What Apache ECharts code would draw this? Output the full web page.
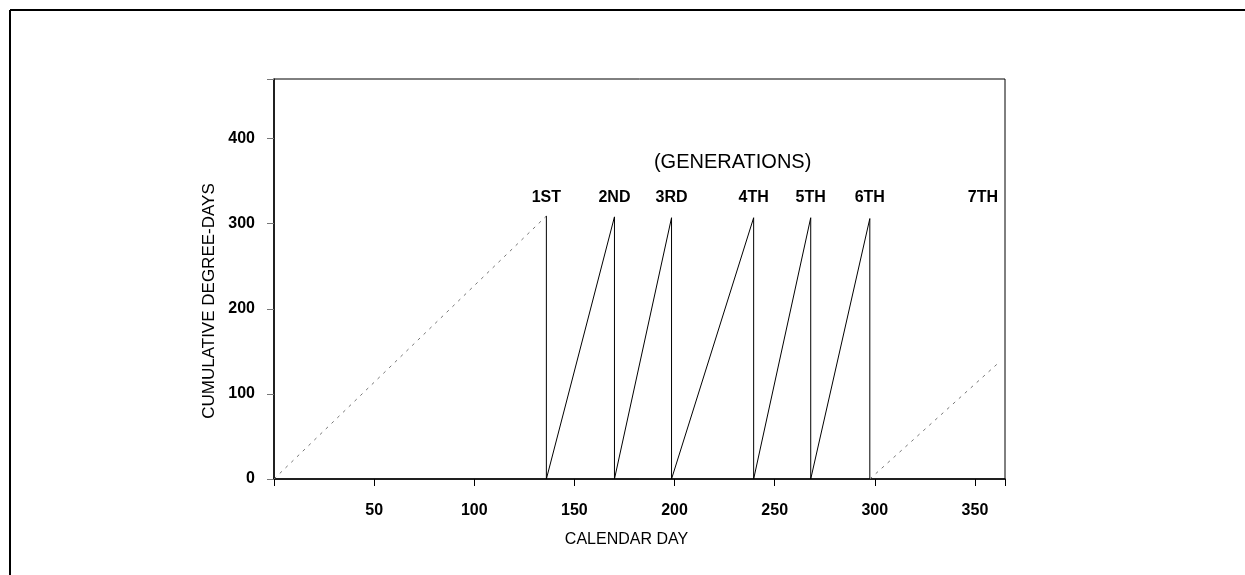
<!DOCTYPE html>
<html>
<head>
<meta charset="utf-8">
<script src="https://cdn.jsdelivr.net/npm/echarts@6/dist/echarts.min.js"></script>
<style>
html,body{margin:0;padding:0;background:#fff;}
#chart{width:1245px;height:575px;}
</style>
</head>
<body>
<div id="chart"></div>
<script>
// Generation completion days and peak cumulative degree-days
const genNames = ['1ST', '2ND', '3RD', '4TH', '5TH', '6TH', '7TH'];
const genDays = [136, 170, 198.5, 239.5, 268, 297.5];
const genPeaks = [309, 308, 307, 307, 307, 306];
const labelDays = [136, 170, 198.5, 239.5, 268, 297.5, 354];
const labelValue = 331;
// Dotted ramps (first and last, incomplete generation)
const firstRampDays = [0, 136];
const firstRampValues = [0, 309];
const lastRampDays = [297.5, 362];
const lastRampValues = [0, 137];
// Heading
const headingText = '(GENERATIONS)';
const headingDay = 229;
const headingValue = 372;
// Axes
const xTicks = [50, 100, 150, 200, 250, 300, 350];
const yTicks = [0, 100, 200, 300, 400];

// Build the sawtooth: rise from previous drop to the next peak, then vertical drop
const saw = [];
saw.push([genDays[0], genPeaks[0]]);
saw.push([genDays[0], 0]);
for (let i = 1; i < genDays.length; i++) {
  saw.push([genDays[i], genPeaks[i]]);
  saw.push([genDays[i], 0]);
}
const firstRamp = firstRampDays.map((d, i) => [d, firstRampValues[i]]);
const lastRamp = lastRampDays.map((d, i) => [d, lastRampValues[i]]);
const labelPts = labelDays.map((d, i) => [d, labelValue, genNames[i]]);

const FONT = '"Liberation Sans", Arial, sans-serif';
const chart = echarts.init(document.getElementById('chart'), null, {renderer: 'canvas'});
chart.setOption({
  animation: false,
  backgroundColor: '#ffffff',
  graphic: [
    {type: 'line', shape: {x1: 10, y1: 10, x2: 1245, y2: 10}, style: {stroke: '#000', lineWidth: 2}},
    {type: 'line', shape: {x1: 10, y1: 10, x2: 10, y2: 575}, style: {stroke: '#000', lineWidth: 2}}
  ],
  grid: {left: 274, top: 79, right: 240, bottom: 96, show: true, borderColor: '#000', borderWidth: 1, containLabel: false},
  xAxis: {
    type: 'value', min: 0, max: 365, interval: 50,
    name: 'CALENDAR DAY', nameLocation: 'middle', nameGap: 53,
    nameTextStyle: {fontFamily: FONT, fontSize: 16, color: '#000', padding: [0, 26, 0, 0]},
    axisLine: {show: true, lineStyle: {color: '#000', width: 1.5}},
    axisTick: {show: true, length: 7, lineStyle: {color: '#000'}},
    axisLabel: {fontFamily: FONT, fontSize: 16, fontWeight: 'bold', color: '#000', margin: 24,
      formatter: v => (xTicks.indexOf(v) >= 0 ? String(v) : '')},
    splitLine: {show: false}
  },
  yAxis: {
    type: 'value', min: 0, max: 470, interval: 100,
    name: 'CUMULATIVE DEGREE-DAYS', nameLocation: 'middle', nameGap: 56, nameRotate: 90,
    nameTextStyle: {fontFamily: FONT, fontSize: 17, color: '#000', padding: [0, 44, 0, 0]},
    axisLine: {show: true, lineStyle: {color: '#000', width: 1.5}},
    axisTick: {show: true, length: 7, lineStyle: {color: '#777'}},
    axisLabel: {fontFamily: FONT, fontSize: 16, fontWeight: 'bold', color: '#000', margin: 19,
      formatter: v => (yTicks.indexOf(v) >= 0 ? String(v) : '')},
    splitLine: {show: false}
  },
  series: [
    {type: 'line', data: firstRamp, symbol: 'none', lineStyle: {color: '#777', width: 1, type: [3, 5]}},
    {type: 'line', data: saw, symbol: 'none', lineStyle: {color: '#000', width: 1}},
    {type: 'line', data: lastRamp, symbol: 'none', lineStyle: {color: '#777', width: 1, type: [3, 5]}},
    {type: 'scatter', data: labelPts, symbolSize: 0, itemStyle: {opacity: 1},
      label: {show: true, position: 'inside', formatter: p => p.data[2],
        fontFamily: FONT, fontSize: 16, fontWeight: 'bold', color: '#000'}},
    {type: 'scatter', data: [[headingDay, headingValue, headingText]], symbolSize: 0, itemStyle: {opacity: 1},
      label: {show: true, position: 'inside', formatter: p => p.data[2],
        fontFamily: FONT, fontSize: 20, color: '#000'}}
  ]
});
</script>
</body>
</html>
